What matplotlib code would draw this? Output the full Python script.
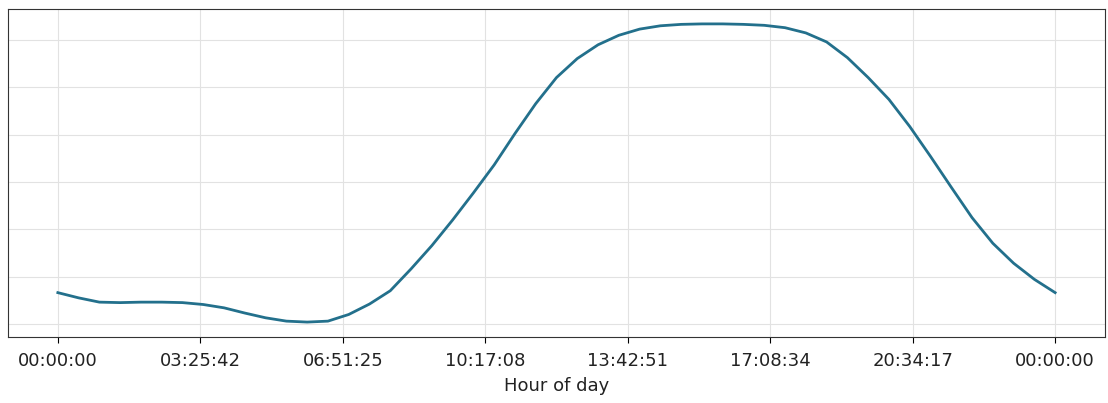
import numpy as np
import matplotlib
matplotlib.use('Agg')
import matplotlib.pyplot as plt
from matplotlib.ticker import FuncFormatter, MultipleLocator

# half-hour samples (arbitrary units, no y labels shown)
hours = np.arange(0, 24.5, 0.5)
values = [0.67, 0.56, 0.47, 0.46, 0.47, 0.47, 0.46, 0.42, 0.35, 0.24,
          0.14, 0.07, 0.05, 0.07, 0.21, 0.43, 0.71, 1.17, 1.66, 2.20,
          2.77, 3.36, 4.02, 4.65, 5.20, 5.60, 5.89, 6.09, 6.22, 6.29,
          6.32, 6.33, 6.33, 6.32, 6.30, 6.25, 6.14, 5.95, 5.62, 5.20,
          4.74, 4.17, 3.54, 2.89, 2.25, 1.71, 1.29, 0.95, 0.67]
seconds = hours * 3600
tick_pos = np.linspace(0, 86400, 8)


def hms(x, pos=None):
    s = int(x) % 86400
    return '%02d:%02d:%02d' % (s // 3600, (s % 3600) // 60, s % 60)


fig = plt.figure(figsize=(11.08, 4.03), dpi=100)
ax = fig.add_axes([0.0072, 0.1638, 0.9901, 0.8139])
ax.plot(seconds, values, color='#23708c', lw=2, solid_joinstyle='round')
ax.set_xticks(tick_pos)
ax.xaxis.set_major_formatter(FuncFormatter(hms))
ax.yaxis.set_major_locator(MultipleLocator(1))
ax.tick_params(axis='y', labelleft=False, length=0)
ax.tick_params(axis='x', labelsize=13, length=4, pad=7, labelcolor='#222222')
ax.grid(True, color='#e2e2e2', lw=0.8)
ax.set_xlabel('Hour of day', fontsize=13, labelpad=5, color='#222222')
for sp in ax.spines.values():
    sp.set_color('#333333')

fig.savefig('out.png', dpi=100)
